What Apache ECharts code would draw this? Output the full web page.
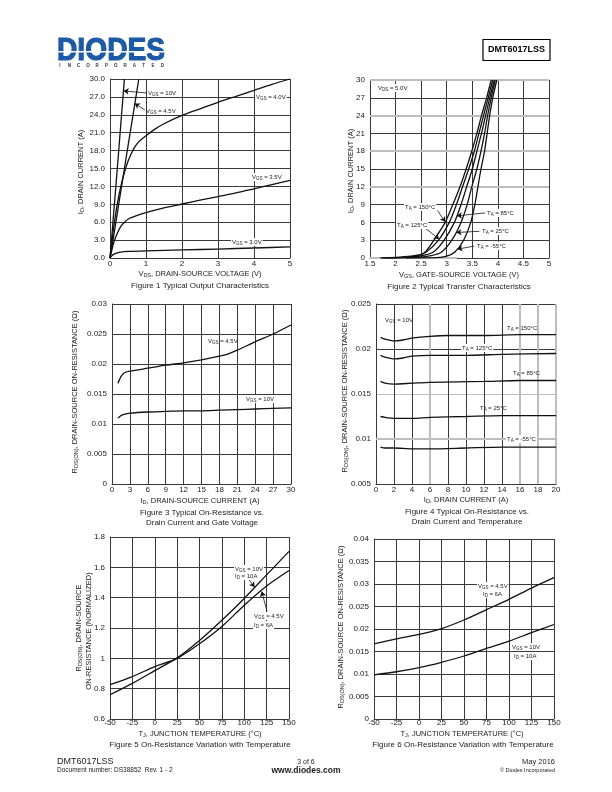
<!DOCTYPE html>
<html><head><meta charset="utf-8">
<script src="https://cdn.jsdelivr.net/npm/echarts@6/dist/echarts.min.js"></script>
<style>html,body{margin:0;padding:0;background:#fff}#c{width:612px;height:792px}</style>
</head><body><div id="c"></div>
<script>
// ---------------- DATA ----------------
// Figure 1: ID (A) vs VDS (V)
const fig1_vgs10 = [[0,0],[0.2,14.8],[0.4,30]];
const fig1_vgs45 = [[0,0],[0.1,3.6],[0.2,7.4],[0.4,15],[0.6,22.5],[0.8,30]];
const fig1_vgs40 = [[0,0],[0.05,2.5],[0.1,5],[0.2,9],[0.3,12],[0.4,14.3],[0.5,16.2],[0.6,17.6],[0.7,18.7],[0.8,19.5],[1.0,20.5],[1.25,21.6],[1.5,22.5],[2,23.9],[2.5,25],[3,26.1],[3.5,27.1],[4,28.1],[4.5,29.1],[5,30]];
const fig1_vgs35 = [[0,0],[0.05,1.3],[0.1,2.5],[0.2,4.1],[0.3,5.3],[0.4,6.0],[0.5,6.5],[0.7,7.0],[1,7.6],[1.5,8.4],[2,9.05],[2.5,9.7],[3,10.3],[3.5,10.9],[4,11.6],[4.5,12.3],[5,13]];
const fig1_vgs30 = [[0,0],[0.05,0.35],[0.1,0.6],[0.2,0.85],[0.3,1.0],[0.5,1.1],[1,1.2],[2,1.35],[3,1.5],[4,1.68],[5,1.85]];
// Figure 2: ID (A) vs VGS (V)
const fig2_t150 = [[1.7,0],[2.0,0.1],[2.3,0.3],[2.5,0.6],[2.6,1.2],[2.75,3],[2.97,6],[3.12,9],[3.26,12],[3.38,15],[3.49,18],[3.59,21],[3.68,24],[3.78,27],[3.87,30]];
const fig2_t125 = [[1.75,0],[2.1,0.1],[2.4,0.3],[2.6,1],[2.84,3],[3.05,6],[3.19,9],[3.31,12],[3.43,15],[3.54,18],[3.63,21],[3.72,24],[3.81,27],[3.9,30]];
const fig2_t85  = [[1.8,0],[2.2,0.1],[2.5,0.35],[2.74,1],[2.95,3],[3.15,6],[3.28,9],[3.39,12],[3.5,15],[3.59,18],[3.68,21],[3.76,24],[3.84,27],[3.93,30]];
const fig2_t25  = [[1.9,0],[2.4,0.1],[2.7,0.4],[2.9,1],[3.1,3],[3.28,6],[3.4,9],[3.49,12],[3.59,15],[3.67,18],[3.74,21],[3.8,24],[3.87,27],[3.95,30]];
const fig2_tm55 = [[2.2,0],[2.8,0.05],[3.0,0.3],[3.16,1],[3.33,3],[3.47,6],[3.55,9],[3.61,12],[3.67,15],[3.74,18],[3.79,21],[3.84,24],[3.9,27],[3.98,30]];
// Figure 3: RDS(ON) (ohm) vs ID (A)
const fig3_vgs45 = [[1,0.0168],[1.5,0.0179],[2,0.0185],[3,0.0188],[6,0.0193],[9,0.0198],[12,0.0202],[15,0.0207],[18,0.0213],[19.5,0.0217],[21,0.0223],[24,0.0237],[27,0.025],[30,0.0265]];
const fig3_vgs10 = [[1,0.011],[1.5,0.0114],[2,0.0116],[3,0.0118],[6,0.012],[9,0.0121],[12,0.0122],[15,0.0122],[18,0.0123],[21,0.0124],[24,0.0125],[27,0.0126],[30,0.0127]];
// Figure 4: RDS(ON) (ohm) vs ID (A), per temperature
const fig4_t150 = [[0.5,0.0213],[1,0.0211],[2,0.0209],[3,0.021],[4,0.0212],[6,0.0214],[8,0.0215],[12,0.0215],[16,0.0216],[20,0.0216]];
const fig4_t125 = [[0.5,0.0193],[1,0.0191],[2,0.0189],[3,0.019],[4,0.0192],[6,0.0193],[10,0.0193],[14,0.0194],[20,0.0195]];
const fig4_t85  = [[0.5,0.0164],[1,0.0162],[2,0.0161],[4,0.0162],[6,0.0163],[12,0.0164],[16,0.0165],[20,0.0165]];
const fig4_t25  = [[0.5,0.0125],[1,0.0124],[2,0.0123],[4,0.0123],[6,0.0124],[10,0.0125],[14,0.0126],[20,0.0126]];
const fig4_tm55 = [[0.5,0.0091],[1,0.009],[2,0.009],[4,0.0089],[6,0.0089],[10,0.009],[14,0.0091],[20,0.0091]];
// Figure 5 & 6: vs junction temperature
const tj = [-50,-25,0,25,50,75,100,125,150];
const fig5_vgs10 = [0.76,0.835,0.919,1.003,1.118,1.251,1.395,1.55,1.705];
const fig5_vgs45 = [0.826,0.88,0.945,1.0,1.096,1.21,1.35,1.477,1.579];
const fig6_vgs45 = [0.0167,0.0178,0.0188,0.0201,0.022,0.0243,0.0266,0.0291,0.0314];
const fig6_vgs10 = [0.0098,0.0105,0.0114,0.0126,0.014,0.0157,0.0173,0.0192,0.021];

// ---------------- STYLE / LAYOUT ----------------
const FONT = '"Liberation Sans", Arial, Helvetica, sans-serif';
const INK = '#111';
const GRIDC = '#3a3a3a';
const GRAYC = '#bdbdbd';
const TXT = '#222';

const grids = [
  {left:110, top:79,  width:180, height:179},
  {left:370, top:80,  width:179, height:178},
  {left:112, top:304, width:179, height:180},
  {left:376, top:304, width:180, height:180},
  {left:110, top:537, width:179, height:182},
  {left:374, top:539, width:180, height:180}
];

function axis(gi, min, max, interval, margin, fmt, colors) {
  return {
    type:'value', gridIndex:gi, min, max, interval,
    axisLine:{show:true, onZero:false, lineStyle:{color:GRIDC, width:1}},
    axisTick:{show:false},
    axisLabel:{show:true, fontSize:8, fontFamily:FONT, color:TXT, margin,
               formatter:fmt, showMinLabel:true, showMaxLabel:true},
    splitLine:{show:true, lineStyle:{color:colors || GRIDC, width:1}}
  };
}
const c2y = [GRIDC,GRIDC,GRIDC,GRIDC,GRAYC,GRIDC,GRAYC,GRIDC,GRAYC,GRIDC,GRAYC];
const c4x = [GRIDC,GRIDC,GRIDC,GRAYC,GRIDC,GRIDC,GRIDC,GRIDC,GRAYC,GRAYC,GRAYC];
const c4y = [GRIDC,GRIDC,GRAYC,GRIDC,GRIDC];

const xAxes = [
  axis(0, 0, 5, 1, 2),
  axis(1, 1.5, 5, 0.5, 2),
  axis(2, 0, 30, 3, 1.5),
  axis(3, 0, 20, 2, 1.5, null, c4x),
  axis(4, -50, 150, 25, 0),
  axis(5, -50, 150, 25, 0)
];
const yAxes = [
  axis(0, 0, 30, 3, 5, v => v.toFixed(1)),
  axis(1, 0, 30, 3, 5, null, c2y),
  axis(2, 0, 0.03, 0.005, 5),
  axis(3, 0.005, 0.025, 0.005, 5, null, c4y),
  axis(4, 0.6, 1.8, 0.2, 5),
  axis(5, 0, 0.04, 0.005, 5)
];

function curve(ax, data, extra) {
  return Object.assign({type:'line', xAxisIndex:ax, yAxisIndex:ax, data, symbol:'none', showSymbol:false,
    smooth:0.25, lineStyle:{color:INK, width:1.3}, silent:true, animation:false, z:3}, extra || {});
}
function arrows(list) {
  return {silent:true, symbol:['none','arrow'], symbolSize:5, animation:false,
    lineStyle:{color:INK, width:0.8, type:'solid'}, label:{show:false}, emphasis:{disabled:true},
    data:list.map(a => [{coord:a[0]}, {coord:a[1]}])};
}
// thick light-grey grid lines that sit under the curves
function grayLines(ax, xs, ys, segs) {
  return {type:'line', xAxisIndex:ax, yAxisIndex:ax, data:[], silent:true, animation:false, z:2,
    markLine:{silent:true, z:1, symbol:'none', animation:false, label:{show:false}, emphasis:{disabled:true},
      lineStyle:{color:GRAYC, width:2, type:'solid'},
      data:[].concat(xs.map(v => ({xAxis:v})), ys.map(v => ({yAxis:v})),
                     segs.map(s => [{coord:s[0]}, {coord:s[1]}]))}};
}
const zip = (xs, ys) => xs.map((x,i) => [x, ys[i]]);

const series = [
  grayLines(1, [], [12, 18, 24, 30], [[[1.5,0],[3.2,0]]]),
  grayLines(3, [6, 16, 18, 20], [0.015], [[[10,0.01],[20,0.01]]]),
  curve(0, fig1_vgs10, {smooth:false, markLine:arrows([[[1.03,27.65],[0.38,28.0]]])}),
  curve(0, fig1_vgs45, {markLine:arrows([[[0.97,24.8],[0.69,25.9]]])}),
  curve(0, fig1_vgs40),
  curve(0, fig1_vgs35),
  curve(0, fig1_vgs30),
  curve(1, fig2_t150, {markLine:arrows([[[2.82,8.0],[2.97,6.1]]])}),
  curve(1, fig2_t125, {markLine:arrows([[[2.54,5.3],[2.85,3.2]]])}),
  curve(1, fig2_t85,  {markLine:arrows([[[3.75,7.6],[3.2,7.1]]])}),
  curve(1, fig2_t25,  {markLine:arrows([[[3.64,4.5],[3.19,4.3]]])}),
  curve(1, fig2_tm55, {markLine:arrows([[[3.54,2.0],[3.21,1.5]]])}),
  curve(2, fig3_vgs45),
  curve(2, fig3_vgs10),
  curve(3, fig4_t150),
  curve(3, fig4_t125),
  curve(3, fig4_t85),
  curve(3, fig4_t25),
  curve(3, fig4_tm55),
  curve(4, zip(tj, fig5_vgs10), {markLine:arrows([[[105,1.52],[111.5,1.47]]])}),
  curve(4, zip(tj, fig5_vgs45), {markLine:arrows([[[125.5,1.31],[119.5,1.44]]])}),
  curve(5, zip(tj, fig6_vgs45)),
  curve(5, zip(tj, fig6_vgs10))
];

// ---------------- TEXT ----------------
const annRich = {
  m:{fontSize:6, fontFamily:FONT, fill:TXT},
  s:{fontSize:4.5, fontFamily:FONT, fill:TXT, padding:[3,0,0,0]}
};
const ttlRich = {
  m:{fontSize:7.5, fontFamily:FONT, fill:TXT},
  s:{fontSize:5.5, fontFamily:FONT, fill:TXT, padding:[3,0,0,0]}
};
function rt(a, b, c) { return '{m|' + a + '}{s|' + b + '}{m|' + c + '}'; }
function txt(x, y, text, o) {
  o = o || {};
  const st = {text, fill:o.fill || TXT, fontFamily:FONT, fontSize:o.size || 7.5, fontWeight:o.weight || 'normal',
      align:o.align || 'center', verticalAlign:'middle', rich:o.rich,
      backgroundColor:o.bg, padding:o.bg ? [0,1] : 0};
  if (o.stroke) { st.stroke = o.stroke; st.lineWidth = o.lw || 1; }
  return {type:'text', x, y, rotation:o.rot || 0, scaleX:o.sx || 1, z:100, silent:true, style:st};
}
function ann(x, y, a, b, c, bg) { return txt(x, y, rt(a, b, c), {align:'left', rich:annRich, bg: bg ? '#fff' : undefined}); }
function title(x, y, a, b, c, rot) { return txt(x, y, rt(a, b, c), {rich:ttlRich, rot: rot ? Math.PI/2 : 0}); }
function cap(x, y, s) { return txt(x, y, s, {size:8}); }

const LOGO = '#1d5aa6';
const graphics = [
  // header
  txt(57, 51.5, 'DIODES', {size:31, weight:'bold', fill:LOGO, align:'left', sx:0.91, stroke:LOGO, lw:1.1}),
  {type:'rect', z:101, silent:true, shape:{x:56, y:51.0, width:113, height:1.4}, style:{fill:'#fff'}},
  {type:'rect', z:100, silent:true, shape:{x:483, y:39.5, width:67, height:21}, style:{fill:'none', stroke:'#000', lineWidth:1.2}},
  txt(516.5, 50, 'DMT6017LSS', {size:9, weight:'bold', fill:'#000'}),
  // Fig 1
  title(200, 274, 'V', 'DS', ', DRAIN-SOURCE VOLTAGE (V)'),
  cap(200, 286, 'Figure 1 Typical Output Characteristics'),
  title(81, 172, 'I', 'D', ', DRAIN CURRENT (A)', true),
  ann(148, 93, 'V', 'GS', ' = 10V'),
  ann(146, 111, 'V', 'GS', ' = 4.5V'),
  ann(255, 97, 'V', 'GS', ' = 4.0V', true),
  ann(251, 177, 'V', 'GS', ' = 3.5V', true),
  ann(231, 242, 'V', 'GS', ' = 3.0V', true),
  // Fig 2
  title(459, 275, 'V', 'GS', ', GATE-SOURCE VOLTAGE (V)'),
  cap(459, 287, 'Figure 2 Typical Transfer Characteristics'),
  title(351, 171, 'I', 'D', ', DRAIN CURRENT (A)', true),
  ann(377, 88, 'V', 'DS', ' = 5.0V', true),
  ann(404, 207, 'T', 'A', ' = 150°C', true),
  ann(396, 225, 'T', 'A', ' = 125°C', true),
  ann(486, 213, 'T', 'A', ' = 85°C', true),
  ann(481, 231, 'T', 'A', ' = 25°C', true),
  ann(476, 246, 'T', 'A', ' = -55°C', true),
  // Fig 3
  title(200, 501, 'I', 'D', ', DRAIN-SOURCE CURRENT (A)'),
  cap(202, 512.5, 'Figure 3 Typical On-Resistance vs.'),
  cap(202, 523, 'Drain Current and Gate Voltage'),
  title(75, 392, 'R', 'DS(ON)', ', DRAIN-SOURCE ON-RESISTANCE (Ω)', true),
  ann(208, 341, 'V', 'GS', ' = 4.5V'),
  ann(245, 399, 'V', 'GS', ' = 10V', true),
  // Fig 4
  title(466, 500, 'I', 'D', ', DRAIN CURRENT (A)'),
  cap(467, 511.5, 'Figure 4 Typical On-Resistance vs.'),
  cap(467, 522, 'Drain Current and Temperature'),
  title(345, 391, 'R', 'DS(ON)', ', DRAIN-SOURCE ON-RESISTANCE (Ω)', true),
  ann(385, 320, 'V', 'GS', ' = 10V'),
  ann(507, 328, 'T', 'A', ' = 150°C'),
  ann(461, 348, 'T', 'A', ' = 125°C', true),
  ann(513, 373, 'T', 'A', ' = 85°C'),
  ann(480, 408, 'T', 'A', ' = 25°C'),
  ann(506, 439, 'T', 'A', ' = -55°C', true),
  // Fig 5
  title(200, 734, 'T', 'J', ', JUNCTION TEMPERATURE (°C)'),
  cap(200, 745, 'Figure 5 On-Resistance Variation with Temperature'),
  title(79, 628, 'R', 'DS(ON)', ', DRAIN-SOURCE', true),
  txt(89, 631, 'ON-RESISTANCE (NORMALIZED)', {rot:Math.PI/2}),
  ann(234, 569, 'V', 'GS', ' = 10V', true),
  ann(234, 576, 'I', 'D', ' = 10A', true),
  ann(253, 616, 'V', 'GS', ' = 4.5V', true),
  ann(253, 625, 'I', 'D', ' = 6A', true),
  // Fig 6
  title(462, 733.5, 'T', 'J', ', JUNCTION TEMPERATURE (°C)'),
  cap(463, 744.5, 'Figure 6 On-Resistance Variation with Temperature'),
  title(341, 627, 'R', 'DS(ON)', ', DRAIN-SOURCE ON-RESISTANCE (Ω)', true),
  ann(477, 586, 'V', 'GS', ' = 4.5V', true),
  ann(482, 594, 'I', 'D', ' = 6A', true),
  ann(511, 647, 'V', 'GS', ' = 10V', true),
  ann(513, 656, 'I', 'D', ' = 10A', true),
  // footer
  txt(57, 762, 'DMT6017LSS', {size:9, align:'left'}),
  txt(57, 770, 'Document number: DS38852  Rev. 1 - 2', {size:6.5, align:'left'}),
  txt(306, 762, '3 of 6', {size:7}),
  txt(306, 771, 'www.diodes.com', {size:8.5, weight:'bold'}),
  txt(555, 762, 'May 2016', {size:7.5, align:'right'}),
  txt(555, 770, '© Diodes Incorporated', {size:5.5, align:'right'})
];
// INCORPORATED letters under the logo
'INCORPORATED'.split('').forEach((ch, i) => {
  graphics.push(txt(60 + i * 9.3, 66, ch, {size:4.5, weight:'bold', fill:'#333'}));
});

const chart = echarts.init(document.getElementById('c'), null, {renderer:'canvas'});
chart.setOption({
  animation:false,
  backgroundColor:'#fff',
  grid:grids,
  xAxis:xAxes,
  yAxis:yAxes,
  series,
  graphic:graphics
});
</script></body></html>
